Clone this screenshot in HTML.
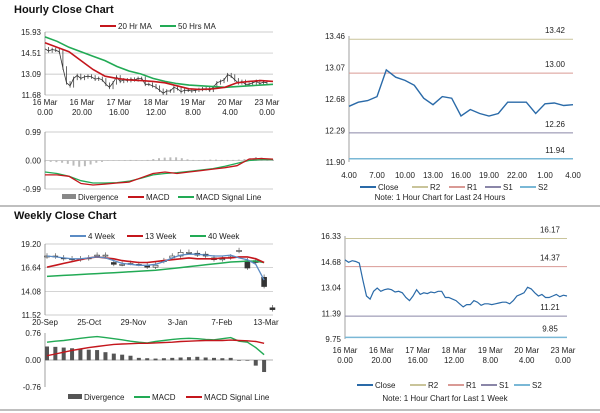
<!DOCTYPE html>
<html><head><meta charset="utf-8"><style>
body{margin:0;background:#fff;}
svg{display:block;font-family:"Liberation Sans",sans-serif;}
.t{font-size:8px;fill:#222}
.h{font-size:11px;font-weight:bold;fill:#111}
</style></head><body>
<svg id="s" width="600" height="413" viewBox="0 0 600 413"></svg>
<script>
// ---- data ----
const hourTicks=["16 Mar|0.00","16 Mar|20.00","17 Mar|16.00","18 Mar|12.00","19 Mar|8.00","20 Mar|4.00","23 Mar|0.00"];
const weekClose=[14.8,14.65,14.75,14.7,14.6,13.5,12.5,12.3,12.8,13.0,12.8,12.9,12.95,12.9,12.75,12.8,12.7,12.4,12.2,12.5,12.9,12.6,12.7,12.65,12.75,12.7,12.8,12.8,12.4,12.4,12.3,12.2,12.0,11.8,11.95,11.95,12.2,12.1,11.9,12.0,12.0,11.95,12.0,12.05,12.1,12.1,12.0,12.2,12.5,12.6,12.7,13.05,12.95,12.7,12.5,12.6,12.4,12.4,12.5,12.6,12.45,12.55,12.5];
const ma20=[15.2,14.9,14.6,14.0,13.4,12.95,12.8,12.7,12.65,12.6,12.5,12.3,12.1,12.05,12.1,12.2,12.5,12.6,12.65,12.6];
const ma50=[15.6,15.3,14.9,14.6,14.3,14.0,13.6,13.3,13.1,12.8,12.6,12.45,12.35,12.3,12.25,12.2,12.25,12.3,12.35,12.4];
const hMacd=[-0.5,-0.5,-0.55,-0.8,-0.85,-0.82,-0.78,-0.75,-0.6,-0.45,-0.4,-0.45,-0.4,-0.35,-0.3,-0.25,-0.18,0.05,0.07,0.05];
const hSignal=[-0.4,-0.45,-0.55,-0.7,-0.78,-0.78,-0.77,-0.72,-0.62,-0.5,-0.45,-0.42,-0.38,-0.33,-0.28,-0.2,-0.1,0.0,0.03,0.03];
const hDiv=[-0.02,-0.03,-0.04,-0.06,-0.1,-0.16,-0.2,-0.18,-0.12,-0.06,-0.03,0,0,0,0.01,0.02,0.01,0,0.02,0.05,0.08,0.1,0.11,0.11,0.08,0.04,0.02,0.01,0.02,0.03,0.03,0.02,0.02,0.02,0.03,0.05,0.08,0.12,0.1,0.06,0.03];
const lastDay=[12.59,12.64,12.66,12.71,13.04,12.95,12.91,12.85,12.69,12.61,12.71,12.69,12.47,12.55,12.50,12.47,12.50,12.64,12.64,12.64,12.50,12.62,12.63,12.60,12.61];
const dayTicks=["4.00","7.00","10.00","13.00","16.00","19.00","22.00","1.00","4.00"];
const lvlTop=[13.42,13.00,12.26,11.94];
const lvlBot=[16.17,14.37,11.21,9.85];
const lvlColors=["#c9c49a","#d99a95","#8a86a8","#7ab8d6"];
const wOpen=[17.8,17.9,17.7,17.5,17.5,17.6,17.9,17.9,17.2,17.0,17.1,17.0,16.9,16.7,17.3,17.7,17.9,18.3,18.2,18.1,17.5,17.5,17.7,18.4,17.4,17.4,15.6,12.3];
const wClose=[17.9,17.8,17.6,17.6,17.6,17.7,18.0,18.0,17.0,17.0,17.1,17.0,16.7,16.9,17.4,17.9,18.3,18.3,18.0,17.9,17.7,17.6,17.8,18.5,16.6,17.2,14.6,12.1];
const w4=[17.9,17.8,17.7,17.6,17.6,17.7,17.8,17.7,17.4,17.1,17.0,16.9,16.9,17.0,17.3,17.7,18.0,18.1,18.1,18.0,17.9,17.9,18.0,17.7,17.5,17.0,15.3];
const w13=[16.7,16.9,17.1,17.3,17.5,17.7,17.8,17.7,17.6,17.4,17.3,17.2,17.2,17.3,17.4,17.5,17.6,17.7,17.6,17.6,17.6,17.7,17.7,17.8,17.8,17.6,17.2];
const w40=[15.7,15.75,15.8,15.85,15.9,15.95,16.0,16.05,16.1,16.15,16.2,16.25,16.3,16.35,16.45,16.55,16.65,16.75,16.85,16.95,17.05,17.15,17.25,17.3,17.35,17.35,17.2];
const weekTicks=["20-Sep","25-Oct","29-Nov","3-Jan","7-Feb","13-Mar"];
const wDiv=[0.38,0.37,0.35,0.33,0.31,0.29,0.28,0.22,0.18,0.15,0.12,0.06,0.05,0.04,0.05,0.06,0.07,0.08,0.09,0.07,0.06,0.05,0.06,-0.01,-0.01,-0.15,-0.33];
const wMacd=[0.5,0.53,0.55,0.58,0.61,0.64,0.66,0.63,0.6,0.57,0.53,0.5,0.48,0.52,0.55,0.58,0.6,0.61,0.6,0.58,0.57,0.6,0.63,0.53,0.5,0.35,0.15];
const wSignal=[0.12,0.17,0.22,0.27,0.31,0.35,0.38,0.41,0.44,0.45,0.46,0.47,0.47,0.48,0.49,0.5,0.52,0.53,0.54,0.55,0.55,0.55,0.56,0.55,0.54,0.52,0.47];
// ---- helpers ----
const S=document.getElementById('s');const NS="http://www.w3.org/2000/svg";
function el(t,a,p){const e=document.createElementNS(NS,t);for(const k in a)e.setAttribute(k,a[k]);(p||S).appendChild(e);return e;}
function txt(x,y,s,anc,cls,name){const e=el('text',{x:x,y:y,'text-anchor':anc||'start','class':cls||'t'});e.textContent=s;

return e;}
function lin(v0,v1,p0,p1){return v=>p0+(v-v0)/(v1-v0)*(p1-p0);}
function poly(arr,fx,fy,col,w,name){const d=arr.map((v,i)=>fx(i).toFixed(1)+","+fy(v).toFixed(1)).join(" ");
const e=el('polyline',{points:d,fill:'none',stroke:col,'stroke-width':w});

return e;}
function axes(x0,x1,yTop,yBot,ticks,fy,grid,name){
 ticks.forEach(t=>{const y=fy(t);if(grid){const g=el('line',{x1:x0,x2:x1,y1:y,y2:y,stroke:'#bbb','stroke-width':0.7});
 
 }
 txt(x0-4,y+3,t.toFixed(2),'end','t','y-tick');});
 const a=el('line',{x1:x0,x2:x0,y1:yTop,y2:yBot,stroke:'#888','stroke-width':0.8});
 
 
}
function legend(items,y){items.forEach(it=>{
 const r=el('rect',{x:it[0],y:y-(it[3]?3:1),width:it[3]?14:16,height:it[3]?5:2,fill:it[2]});
 
 
 txt(it[0]+(it[3]?16:18),y+3,it[1],'start','t','legend-entry');});}
function hline(x0,x1,y,name,col,w){const l=el('line',{x1:x0,x2:x1,y1:y,y2:y,stroke:col||'#999','stroke-width':w||1});

}

txt(14,13,"Hourly Close Chart",'start','h','hourly-title');
txt(14,219,"Weekly Close Chart",'start','h','weekly-title');
hline(0,600,206,'separator-top','#aaa',1.5);
hline(0,600,410,'separator-bottom','#aaa',1.5);

// ---- hourly price ----
{const x0=45,x1=273,fy=lin(11.68,15.93,95,32);
 axes(x0,x1,32,95,[15.93,14.51,13.09,11.68],fy,true,'hourly-y-axis');
 const fx=i=>x0+i/(weekClose.length-1)*(x1-6-x0);
 weekClose.forEach((v,i)=>{if(i>0){const c=el('line',{x1:fx(i),x2:fx(i),y1:fy(Math.max(v,weekClose[i-1])+0.12),y2:fy(Math.min(v,weekClose[i-1])-0.12),stroke:'#444','stroke-width':0.8});
 
 }});
 poly(weekClose,fx,fy,'#333',0.8,'hourly-close');
 const fm=i=>x0+i/(ma20.length-1)*(x1-x0);
 poly(ma50,fm,fy,'#22aa55',1.6,'ma50-line');
 poly(ma20,fm,fy,'#c4161c',1.6,'ma20-line');
 hourTicks.forEach((t,i)=>{const x=x0+i/(hourTicks.length-1)*(x1-6-x0);const p=t.split("|");
 txt(x,105,p[0],'middle','t','x-tick');txt(x,115,p[1],'middle','t','x-tick');});
 legend([[100,"20 Hr MA","#c4161c"],[160,"50 Hrs MA","#22aa55"]],26);
 const gy=lin(-0.99,0.99,189,132);
 axes(x0,x1,132,189,[0.99,0,-0.99],gy,true,'hourly-macd-y-axis');
 hDiv.forEach((v,i)=>{const x=x0+i/(hDiv.length-1)*(x1-x0);const b=el('rect',{x:x-1,y:Math.min(gy(v),gy(0)),width:2,height:Math.abs(gy(v)-gy(0))+0.5,fill:'#bbb'});
 
 });
 const fq=i=>x0+i/(hMacd.length-1)*(x1-x0);
 poly(hSignal,fq,gy,'#22aa55',1.3,'hourly-signal-line');
 poly(hMacd,fq,gy,'#c4161c',1.3,'hourly-macd-line');
 legend([[62,"Divergence","#888",1],[128,"MACD","#c4161c"],[178,"MACD Signal Line","#22aa55"]],197);
}
// ---- last 24 hours ----
{const x0=349,x1=573,fy=lin(11.90,13.46,162,36);
 axes(x0,x1,36,162,[13.46,13.07,12.68,12.29,11.90],fy,false,'day-y-axis');
 lvlTop.forEach((v,i)=>{hline(x0,x1,fy(v),'level-line',lvlColors[i],i==3?1.5:1);txt(555,fy(v)-6,v.toFixed(2),'middle','t','level-label');});
 const fx=i=>x0+i/(lastDay.length-1)*(x1-x0);
 poly(lastDay,fx,fy,'#2a6aa8',1.4,'day-close-line');
 dayTicks.forEach((t,i)=>txt(x0+i/(dayTicks.length-1)*(x1-x0),178,t,'middle','t','x-tick'));
 legend([[360,"Close","#2a6aa8"],[412,"R2",lvlColors[0]],[449,"R1",lvlColors[1]],[485,"S1",lvlColors[2]],[520,"S2",lvlColors[3]]],187);
 txt(440,200,"Note: 1 Hour Chart for Last 24 Hours",'middle','t','note-24h');
}
// ---- weekly ----
{const x0=45,x1=273,fy=lin(11.52,19.20,315,244);
 axes(x0,x1,244,315,[19.20,16.64,14.08,11.52],fy,true,'weekly-y-axis');
 const fx=i=>47+i*8.35;
 wOpen.forEach((o,i)=>{const c=wClose[i];const x=fx(i);
 const w=el('line',{x1:x,x2:x,y1:fy(Math.max(o,c)+0.3),y2:fy(Math.min(o,c)-0.2),stroke:'#555','stroke-width':0.7});
 
 
 const b=el('rect',{x:x-2.5,y:fy(Math.max(o,c)),width:5,height:Math.max(1,Math.abs(fy(o)-fy(c))),fill:c<o?'#333':'#fff',stroke:'#333','stroke-width':0.6});
 
 });
 poly(w40,fx,fy,'#22aa55',1.5,'week40-line');
 poly(w13,fx,fy,'#c4161c',1.6,'week13-line');
 poly(w4,fx,fy,'#5b8bc4',1.3,'week4-line');
 const tp=i=>45+i*44.2;
 weekTicks.forEach((t,i)=>txt(tp(i),325,t,'middle','t','x-tick'));
 legend([[70,"4 Week","#5b8bc4"],[127,"13 Week","#c4161c"],[190,"40 Week","#22aa55"]],236);
 const gy=lin(-0.76,0.76,387,333);
 axes(x0,x1,333,387,[0.76,0,-0.76],gy,false,'weekly-macd-y-axis');
 hline(x0,x1,gy(0),'weekly-zero-line','#999',0.8);
 wDiv.forEach((v,i)=>{const x=fx(i);const b=el('rect',{x:x-2,y:Math.min(gy(v),gy(0)),width:4,height:Math.abs(gy(v)-gy(0))+0.3,fill:'#555'});
 
 });
 poly(wMacd,fx,gy,'#22aa55',1.4,'weekly-macd-line');
 poly(wSignal,fx,gy,'#c4161c',1.4,'weekly-signal-line');
 legend([[68,"Divergence","#555",1],[134,"MACD","#22aa55"],[186,"MACD Signal Line","#c4161c"]],397);
}
// ---- week hourly ----
{const x0=345,x1=567,fy=lin(9.75,16.33,339,236);
 axes(x0,x1,236,339,[16.33,14.68,13.04,11.39,9.75],fy,false,'week-hourly-y-axis');
 lvlBot.forEach((v,i)=>{hline(x0,x1,fy(v),'level-line',lvlColors[i],i==3?1.5:1);txt(550,fy(v)-6,v.toFixed(2),'middle','t','level-label');});
 const fx=i=>x0+i/(weekClose.length-1)*(x1-x0);
 poly(weekClose,fx,fy,'#2a6aa8',1.2,'week-close-line');
 hourTicks.forEach((t,i)=>{const x=x0+i/(hourTicks.length-1)*(x1-4-x0);const p=t.split("|");
 txt(x,353,p[0],'middle','t','x-tick');txt(x,363,p[1],'middle','t','x-tick');});
 legend([[357,"Close","#2a6aa8"],[410,"R2",lvlColors[0]],[448,"R1",lvlColors[1]],[481,"S1",lvlColors[2]],[514,"S2",lvlColors[3]]],385);
 txt(445,401,"Note: 1 Hour Chart for Last 1 Week",'middle','t','note-1w');
}
</script>
</body></html>
